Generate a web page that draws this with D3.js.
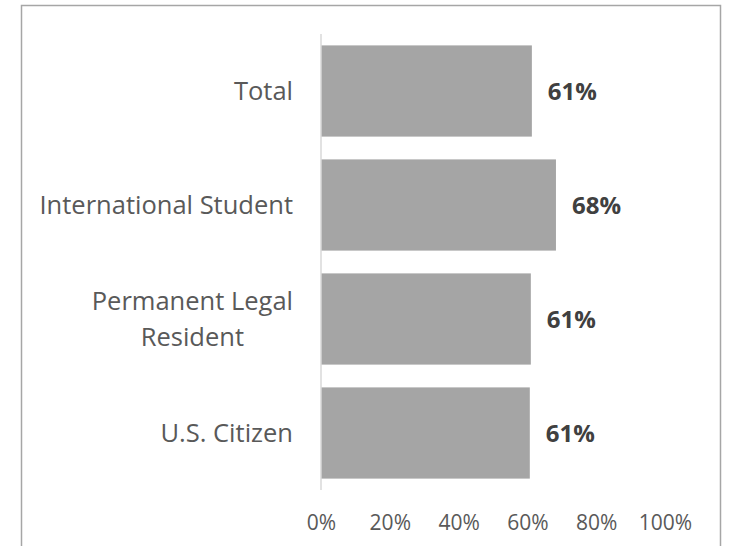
<!DOCTYPE html>
<html>
<head>
<meta charset="utf-8">
<script src="https://cdn.jsdelivr.net/npm/d3@7"></script>
<style>
  body { margin: 0; background: #fff; }
  svg { display: block; font-family: "Open Sans", sans-serif; }
</style>
</head>
<body>
<script>
// chart data
const categories = ["Total", "International Student", "Permanent Legal Resident", "U.S. Citizen"];
const labelLines = [["Total"], ["International Student"], ["Permanent Legal", "Resident"], ["U.S. Citizen"]];
const values = [0.613, 0.683, 0.61, 0.607];
const valueLabels = ["61%", "68%", "61%", "61%"];
const ticks = [0, 0.2, 0.4, 0.6, 0.8, 1];

const W = 734, H = 546;

const svg = d3.select("body")
  .append("svg")
  .attr("width", W)
  .attr("height", H);

// chart frame
svg.append("rect")
  .attr("x", 21.5)
  .attr("y", 5.5)
  .attr("width", 699)
  .attr("height", 560)
  .attr("fill", "none")
  .attr("stroke", "#a6a6a6")
  .attr("stroke-width", 1.5);

const x = d3.scaleLinear().domain([0, 1]).range([321, 665]);
const y = d3.scaleBand().domain(categories).range([34, 490])
  .paddingInner(0.2).paddingOuter(0.1);

// bars
svg.selectAll(".bar")
  .data(categories)
  .enter()
  .append("rect")
  .attr("class", "bar")
  .attr("x", x(0))
  .attr("y", d => y(d))
  .attr("width", (d, i) => x(values[i]) - x(0))
  .attr("height", y.bandwidth())
  .attr("fill", "#a5a5a5");

// vertical axis line
svg.append("line")
  .attr("x1", x(0)).attr("x2", x(0))
  .attr("y1", 34).attr("y2", 490)
  .attr("stroke", "#d9d9d9")
  .attr("stroke-width", 1.5);

// category labels (multi-line ones are centred on each other, right-aligned as a block)
const labelRight = 293;
svg.selectAll(".cat")
  .data(categories)
  .enter()
  .append("text")
  .attr("class", "cat")
  .attr("fill", "#595959")
  .style("font-size", "25.5px")
  .each(function (d, i) {
    const t = d3.select(this);
    const lines = labelLines[i];
    const lh = 36;
    const cy = y(d) + y.bandwidth() / 2;
    const spans = lines.map((ln, k) =>
      t.append("tspan")
        .attr("x", 0)
        .attr("y", cy + (k - (lines.length - 1) / 2) * lh)
        .attr("dy", "0.35em")
        .text(ln));
    const w = d3.max(spans, s => s.node().getComputedTextLength());
    t.attr("text-anchor", "middle");
    spans.forEach(s => s.attr("x", labelRight - w / 2));
  });

// value labels
svg.selectAll(".val")
  .data(categories)
  .enter()
  .append("text")
  .attr("class", "val")
  .attr("x", (d, i) => x(values[i]) + 16)
  .attr("y", d => y(d) + y.bandwidth() / 2)
  .attr("dy", "0.36em")
  .attr("fill", "#404040")
  .style("font-size", "24px")
  .style("font-weight", "bold")
  .text((d, i) => valueLabels[i]);

// bottom axis
const axisBottom = d3.axisBottom(x)
  .tickValues(ticks)
  .tickFormat(d3.format(".0%"))
  .tickSize(0)
  .tickPadding(0);

const gx = svg.append("g")
  .attr("transform", "translate(0, 515)")
  .call(axisBottom);
gx.select(".domain").remove();
gx.selectAll("text")
  .attr("fill", "#595959")
  .style("font-family", "'Open Sans', sans-serif")
  .style("font-size", "21px");
</script>
</body>
</html>
